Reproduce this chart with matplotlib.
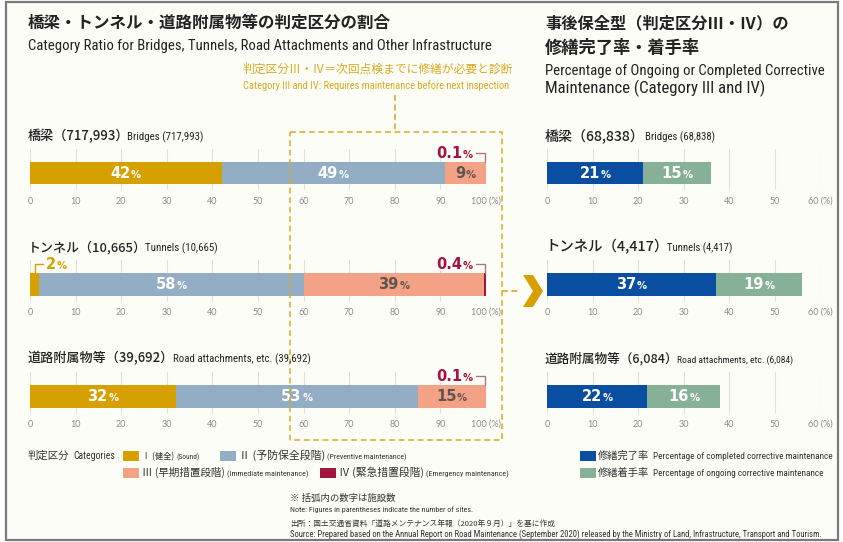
import matplotlib
matplotlib.use('Agg')
import matplotlib.pyplot as plt
from matplotlib import font_manager as fm
from matplotlib.transforms import ScaledTranslation
from matplotlib.patches import Rectangle, Polygon

# ---------------- data ----------------
facilities_jp = ['橋梁', 'トンネル', '道路附属物等']
facilities_en = ['Bridges', 'Tunnels', 'Road attachments, etc.']
facility_counts = ['717,993', '10,665', '39,692']

grade_I = [42, 2, 32]
grade_II = [49, 58, 53]
grade_III = [8.9, 39.6, 14.9]
grade_IV = [0.1, 0.4, 0.1]
grade_I_labels = ['42', '2', '32']
grade_II_labels = ['49', '58', '53']
grade_III_labels = ['9', '39', '15']
grade_IV_labels = ['0.1', '0.4', '0.1']

repair_counts = ['68,838', '4,417', '6,084']
repair_completed = [21, 37, 22]
repair_ongoing = [15, 19, 16]
repair_completed_labels = ['21', '37', '22']
repair_ongoing_labels = ['15', '19', '16']

left_ticks = [0, 10, 20, 30, 40, 50, 60, 70, 80, 90, 100]
left_tick_labels = ['0', '10', '20', '30', '40', '50', '60', '70', '80', '90', '100 (%)']
right_ticks = [0, 10, 20, 30, 40, 50, 60]
right_tick_labels = ['0', '10', '20', '30', '40', '50', '60 (%)']

grade_jp = ['Ⅰ (健全)', 'Ⅱ (予防保全段階)', 'Ⅲ (早期措置段階)', 'Ⅳ (緊急措置段階)']
grade_en = ['(Sound)', '(Preventive maintenance)', '(Immediate maintenance)', '(Emergency maintenance)']
repair_jp = ['修繕完了率', '修繕着手率']
repair_en = ['Percentage of completed corrective maintenance',
             'Percentage of ongoing corrective maintenance']

# ---------------- style ----------------
W, H, DPI = 843, 542, 100
names = {f.name for f in fm.fontManager.ttflist}
JP = 'Noto Sans CJK JP'
COND = next((n for n in ['Liberation Sans Narrow', 'Roboto Condensed', 'Liberation Sans']
             if n in names), 'DejaVu Sans')
TICKF = 'Lato' if 'Lato' in names else 'DejaVu Sans'
plt.rcParams['font.family'] = [JP, 'DejaVu Sans']

GRADE_COLORS = ['#D5A000', '#93ADC4', '#F3A286', '#A3153C']
GRADE_TEXT = ['white', 'white', '#5E5450', '#A3153C']
REPAIR_COLORS = ['#0A4EA2', '#86B197']
GOLD = '#D9AA20'
TXT = '#222222'

fig = plt.figure(figsize=(W / DPI, H / DPI), dpi=DPI, facecolor='white')
bg = fig.add_axes([0, 0, 1, 1], zorder=0)
fg = fig.add_axes([0, 0, 1, 1], zorder=10)
for a in (bg, fg):
    a.set_xlim(0, W)
    a.set_ylim(H, 0)
    a.axis('off')
fg.patch.set_visible(False)
bg.add_patch(Rectangle((6, 2), 832, 538, facecolor='#FDFDF8', edgecolor='#7a7a7a', lw=1.6))

renderer = fig.canvas.get_renderer()


def seq(ax, x, y, parts, align='left'):
    """Place text pieces side by side on a common baseline.
    parts: list of dicts with s, kw, optional end (pixel x to fit), gap (px before)."""
    items = []
    for p in parts:
        t = ax.text(x, y, p['s'], ha='left', va='baseline', **p.get('kw', {}))
        items.append((t, p))
    off = 0.0
    offs = []
    x_disp = ax.transData.transform((x, y))[0]
    for i, (t, p) in enumerate(items):
        if i > 0:
            off += p.get('gap', 0)
        w = t.get_window_extent(renderer).width
        if p.get('end') is not None:
            target = p['end'] - (x_disp + off)
            if target > 0 and w > 0:
                t.set_fontsize(t.get_fontsize() * target / w)
                w = t.get_window_extent(renderer).width
        offs.append(off)
        off += w
    total = off
    shift = {'left': 0, 'center': -total / 2, 'right': -total}[align]
    for (t, _), o in zip(items, offs):
        t.set_transform(ax.transData + ScaledTranslation((o + shift) / DPI, 0, fig.dpi_scale_trans))
    return items


def P(s, end=None, gap=0, **kw):
    return {'s': s, 'kw': kw, 'end': end, 'gap': gap}


JPK = dict(family=[JP, 'DejaVu Sans'])
ENK = dict(family=[COND, JP])

# ---------------- titles ----------------
seq(fg, 28, 28, [P('橋梁・トンネル・道路附属物等の判定区分の割合', end=391, size=12, weight='bold', color=TXT, **JPK)])
seq(fg, 28, 50, [P('Category Ratio for Bridges, Tunnels, Road Attachments and Other Infrastructure',
                   end=490, size=9.5, color=TXT, **ENK)])
seq(fg, 545, 28, [P('事後保全型（判定区分Ⅲ・Ⅳ）の', end=788, size=12, weight='bold', color=TXT, **JPK)])
seq(fg, 545, 53, [P('修繕完了率・着手率', end=700, size=12, weight='bold', color=TXT, **JPK)])
seq(fg, 545, 75, [P('Percentage of Ongoing or Completed Corrective', end=823, size=9, color=TXT, **ENK)])
seq(fg, 545, 93, [P('Maintenance (Category III and IV)', end=766, size=9, color=TXT, **ENK)])

seq(fg, 243, 72.5, [P('判定区分Ⅲ・Ⅳ＝次回点検までに修繕が必要と診断', end=513, size=8.5, color=GOLD, **JPK)])
seq(fg, 243, 89, [P('Category III and IV: Requires maintenance before next inspection', end=513,
                    size=7, color=GOLD, **ENK)])

# dashed box and connector
dash = (0, (3.5, 2.2))
fg.plot([290, 502, 502, 290, 290], [132, 132, 440, 440, 132], ls=dash, color=GOLD, lw=1.2, alpha=0.9)
fg.plot([395, 395], [95, 132], ls=dash, color=GOLD, lw=1.2)
fg.plot([502, 521], [291, 291], ls=dash, color=GOLD, lw=1.2)
fg.add_patch(Polygon([(523, 275), (533, 275), (543, 291), (533, 307), (523, 307), (533, 291)],
                     closed=True, facecolor='#D5A000', edgecolor='none'))

# ---------------- charts ----------------
ROW_CY = [173, 284.5, 396.5]
BAR_H = 22.5
ABOVE, BELOW = 13, 6
LABEL_Y = [140.5, 251.5, 362.5]
left_jp_end = [129, 147, 174]
left_en_start = [127, 145, 173]
left_en_end = [203, 217, 310]
right_jp_end = [645, 669, 679]
right_en_start = [645, 667, 677]
right_en_end = [715, 732, 792]


def make_ax(x0, x1, cy, xmax, ticks, labels):
    top = cy - BAR_H / 2 - ABOVE
    bot = cy + BAR_H / 2 + BELOW
    ax = fig.add_axes([x0 / W, 1 - bot / H, (x1 - x0) / W, (bot - top) / H], zorder=2)
    ax.set_xlim(0, xmax)
    ax.set_ylim(-0.5 - BELOW / BAR_H, 0.5 + ABOVE / BAR_H)
    ax.patch.set_visible(False)
    for s in ax.spines.values():
        s.set_visible(False)
    ax.set_yticks([])
    ax.set_xticks(ticks, labels)
    ax.tick_params(axis='x', length=0, pad=4.5, labelsize=6.5, labelcolor='#8c8c8c')
    for lb in ax.get_xticklabels():
        lb.set_family(TICKF)
    ax.grid(axis='x', color='#e0e0e0', lw=0.8)
    ax.set_axisbelow(True)
    return ax


NUMK = dict(family='DejaVu Sans', weight='bold')
YC = 0.5 + 9 / BAR_H


def bar_label(ax, x, num, color, align='center', y=-0.22):
    seq(ax, x, y, [P(num, size=10.5, color=color, **NUMK), P('%', size=7.2, color=color, gap=0.5, **NUMK)],
        align=align)


for i in range(3):
    cy = ROW_CY[i]
    # left chart
    seq(fg, 28, LABEL_Y[i], [P(f'{facilities_jp[i]}（{facility_counts[i]}）', end=left_jp_end[i],
                                size=10.5, weight='medium', color=TXT, **JPK)])
    seq(fg, left_en_start[i], LABEL_Y[i], [P(f'{facilities_en[i]} ({facility_counts[i]})', end=left_en_end[i],
                                             size=7.5, color=TXT, **ENK)])
    ax = make_ax(30, 486, cy, 100, left_ticks, left_tick_labels)
    vals = [grade_I[i], grade_II[i], grade_III[i], grade_IV[i]]
    labs = [grade_I_labels[i], grade_II_labels[i], grade_III_labels[i], grade_IV_labels[i]]
    left = 0
    for k, (v, lab) in enumerate(zip(vals, labs)):
        ax.barh(0, v, left=left, height=1, color=GRADE_COLORS[k], lw=0)
        c = left + v / 2
        if v >= 5:
            bar_label(ax, c, lab, GRADE_TEXT[k])
        elif k == 0:
            ax.plot([c, c, c + 1.9], [0.5, YC, YC], color=GRADE_COLORS[0], lw=1, clip_on=False)
            bar_label(ax, c + 2.4, lab, GRADE_COLORS[0], align='left', y=YC - 0.22)
        else:
            cc = min(c, 99.8)
            ax.plot([cc, cc, 97.7], [0.5, YC, YC], color='#B5708A', lw=1, clip_on=False)
            bar_label(ax, 97.2, lab, GRADE_TEXT[3], align='right', y=YC - 0.22)
        left += v

    # right chart
    seq(fg, 545, LABEL_Y[i], [P(f'{facilities_jp[i]}（{repair_counts[i]}）', end=right_jp_end[i],
                                 size=10.5, weight='medium', color=TXT, **JPK)])
    seq(fg, right_en_start[i], LABEL_Y[i], [P(f'{facilities_en[i]} ({repair_counts[i]})',
                                              end=right_en_end[i], size=7.5, color=TXT, **ENK)])
    ax2 = make_ax(547, 547 + 45.6 * 6, cy, 60, right_ticks, right_tick_labels)
    rv = [repair_completed[i], repair_ongoing[i]]
    rl = [repair_completed_labels[i], repair_ongoing_labels[i]]
    left = 0
    for k, (v, lab) in enumerate(zip(rv, rl)):
        ax2.barh(0, v, left=left, height=1, color=REPAIR_COLORS[k], lw=0)
        bar_label(ax2, left + v / 2, lab, 'white')
        left += v

# ---------------- legends ----------------
LG = '#333333'
seq(fg, 28, 459, [P('判定区分', size=7.5, color=LG, **JPK), P('Categories', gap=4, size=7, color=LG, **ENK),
                  P('：', end=120, size=7.5, color=LG, **JPK)])
# (swatch x, center y, text x, jp end, en end)
leg = [(123, 455.5, 142, 174, 199), (220, 455.5, 239, 325, 406),
       (123, 472.5, 142, 225, 308), (320, 472.5, 339, 424, 508)]
for k, (sx, sy, tx, je, te) in enumerate(leg):
    fg.add_patch(Rectangle((sx, sy - 5), 15.5, 10, facecolor=GRADE_COLORS[k], edgecolor='none'))
    seq(fg, tx, sy + 3.5, [P(grade_jp[k], end=je, size=7.2, color=LG, **JPK),
                           P(grade_en[k], end=te, gap=2, size=6.5, color=LG, **ENK)])
rleg = [(580, 455.5, 598, 649, 831), (580, 472.5, 598, 649, 822)]
for k, (sx, sy, tx, je, te) in enumerate(rleg):
    fg.add_patch(Rectangle((sx, sy - 5), 16, 10, facecolor=REPAIR_COLORS[k], edgecolor='none'))
    seq(fg, tx, sy + 3.5, [P(repair_jp[k], end=je, size=7.5, color=LG, **JPK),
                           P(repair_en[k], end=te, gap=4, size=6.5, color=LG, **ENK)])

# ---------------- notes ----------------
seq(fg, 290, 500.5, [P('※ 括弧内の数字は施設数', end=395, size=6.5, color=LG, **JPK)])
seq(fg, 290, 512, [P('Note: Figures in parentheses indicate the number of sites.', end=473, size=6, color=LG, **ENK)])
seq(fg, 290, 525.5, [P('出所：国土交通省資料「道路メンテナンス年報（2020年９月）」を基に作成', end=554,
                       size=6.5, color=LG, **JPK)])
seq(fg, 290, 537, [P('Source: Prepared based on the Annual Report on Road Maintenance (September 2020) released by '
                     'the Ministry of Land, Infrastructure, Transport and Tourism.', end=825, size=6, color=LG, **ENK)])

fig.savefig('out.png', dpi=DPI, facecolor='white')
